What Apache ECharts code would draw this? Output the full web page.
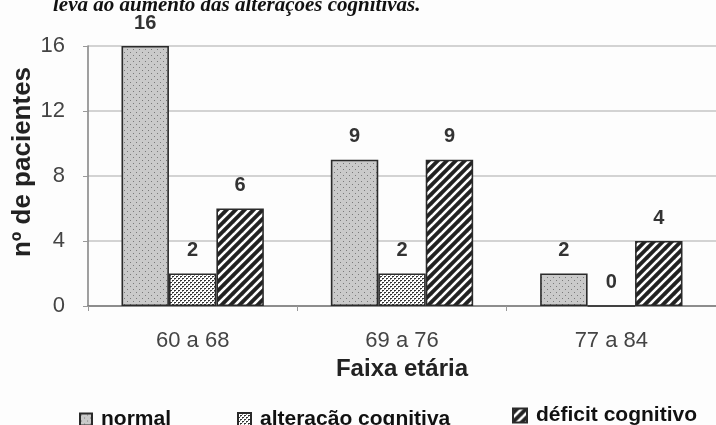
<!DOCTYPE html>
<html>
<head>
<meta charset="utf-8">
<script src="https://cdn.jsdelivr.net/npm/echarts@6/dist/echarts.min.js"></script>
<style>
  html, body { margin: 0; padding: 0; background: #fdfdfd; }
  #chart { width: 716px; height: 425px; }
</style>
</head>
<body>
<div id="chart"></div>
<script>
// Age groups and number of patients per cognitive status
const categories = ['60 a 68', '69 a 76', '77 a 84'];
const normal = [16, 9, 2];
const alteracao = [2, 2, 0];
const deficit = [6, 9, 4];
const yTicks = [0, 4, 8, 12, 16];

const FONT = 'Liberation Sans, Arial, sans-serif';

// Fill patterns drawn on small canvases
function dotsPattern() {
  const c = document.createElement('canvas');
  c.width = 6; c.height = 6;
  const g = c.getContext('2d');
  g.fillStyle = '#cacaca';
  g.fillRect(0, 0, 6, 6);
  g.fillStyle = '#7a7a7a';
  g.fillRect(1, 1, 1, 1);
  g.fillRect(4, 4, 1, 1);
  return c;
}
function denseDotsPattern() {
  const c = document.createElement('canvas');
  c.width = 4; c.height = 4;
  const g = c.getContext('2d');
  g.fillStyle = '#ffffff';
  g.fillRect(0, 0, 4, 4);
  g.fillStyle = '#333333';
  g.fillRect(0, 0, 2, 1);
  g.fillRect(2, 2, 2, 1);
  g.fillStyle = '#888888';
  g.fillRect(0, 1, 1, 1);
  g.fillRect(2, 3, 1, 1);
  return c;
}
function stripePattern() {
  const s = 9;
  const c = document.createElement('canvas');
  c.width = s; c.height = s;
  const g = c.getContext('2d');
  g.fillStyle = '#222222';
  g.fillRect(0, 0, s, s);
  g.strokeStyle = '#ffffff';
  g.lineWidth = 2.6;
  for (let k = -1; k <= 1; k++) {
    g.beginPath();
    g.moveTo(k * s - 1, s + 1);
    g.lineTo(k * s + s + 1, -1);
    g.stroke();
  }
  return c;
}

const fills = {
  normal: { image: dotsPattern(), repeat: 'repeat' },
  alteracao: { image: denseDotsPattern(), repeat: 'repeat' },
  deficit: { image: stripePattern(), repeat: 'repeat' }
};

const chart = echarts.init(document.getElementById('chart'), null, { renderer: 'canvas' });

const valueLabel = {
  show: true,
  position: 'top',
  distance: 13,
  fontFamily: FONT,
  fontSize: 20,
  fontWeight: 'bold',
  color: '#333'
};

function barSeries(name, data, fill) {
  return {
    name: name,
    type: 'bar',
    data: data,
    barGap: '0%',
    barCategoryGap: '32%',
    itemStyle: { color: fill, borderColor: '#2a2a2a', borderWidth: 1.6 },
    label: valueLabel
  };
}

function legendItem(name, left, top, size) {
  return {
    data: [name],
    left: left,
    top: top,
    itemWidth: size,
    itemHeight: size,
    icon: 'rect',
    padding: 0,
    textStyle: {
      fontFamily: FONT,
      fontSize: 21,
      fontWeight: 'bold',
      color: '#111',
      padding: [0, 0, 0, 4]
    }
  };
}

chart.setOption({
  backgroundColor: '#fdfdfd',
  animation: false,
  graphic: [{
    type: 'text',
    left: 53,
    top: -5,
    style: {
      text: 'leva ao aumento das alterações cognitivas.',
      font: 'italic bold 21px "Liberation Serif", "DejaVu Serif", serif',
      fill: '#111'
    }
  }, {
    type: 'text',
    x: 23,
    y: 162,
    rotation: Math.PI / 2,
    style: {
      text: 'nº de pacientes',
      font: 'bold 26px ' + FONT,
      fill: '#222',
      align: 'center',
      verticalAlign: 'middle'
    }
  }],
  legend: [
    legendItem('normal', 79, 409, 12),
    legendItem('alteracão cognitiva', 237, 409, 13),
    legendItem('déficit cognitivo', 512, 405, 14)
  ],
  grid: { left: 88, right: -11, top: 46, bottom: 119, containLabel: false },
  xAxis: {
    type: 'category',
    data: categories,
    name: 'Faixa etária',
    nameLocation: 'middle',
    nameGap: 48,
    nameTextStyle: {
      fontFamily: FONT,
      fontSize: 24,
      fontWeight: 'bold',
      color: '#222'
    },
    axisLine: { lineStyle: { color: '#777', width: 1.6 } },
    axisTick: { show: true, length: 5, lineStyle: { color: '#999' } },
    axisLabel: {
      margin: 24,
      fontFamily: FONT,
      fontSize: 22,
      color: '#444'
    }
  },
  yAxis: {
    type: 'value',
    min: yTicks[0],
    max: yTicks[yTicks.length - 1],
    interval: yTicks[1] - yTicks[0],
    axisLine: { show: true, lineStyle: { color: '#888', width: 1.6 } },
    axisTick: { show: true, length: 5, lineStyle: { color: '#999' } },
    axisLabel: {
      margin: 23,
      fontFamily: FONT,
      fontSize: 22,
      color: '#444'
    },
    splitLine: { lineStyle: { color: '#c4c4c4', width: 1.6 } }
  },
  series: [
    barSeries('normal', normal, fills.normal),
    barSeries('alteracão cognitiva', alteracao, fills.alteracao),
    barSeries('déficit cognitivo', deficit, fills.deficit)
  ]
});
</script>
</body>
</html>
